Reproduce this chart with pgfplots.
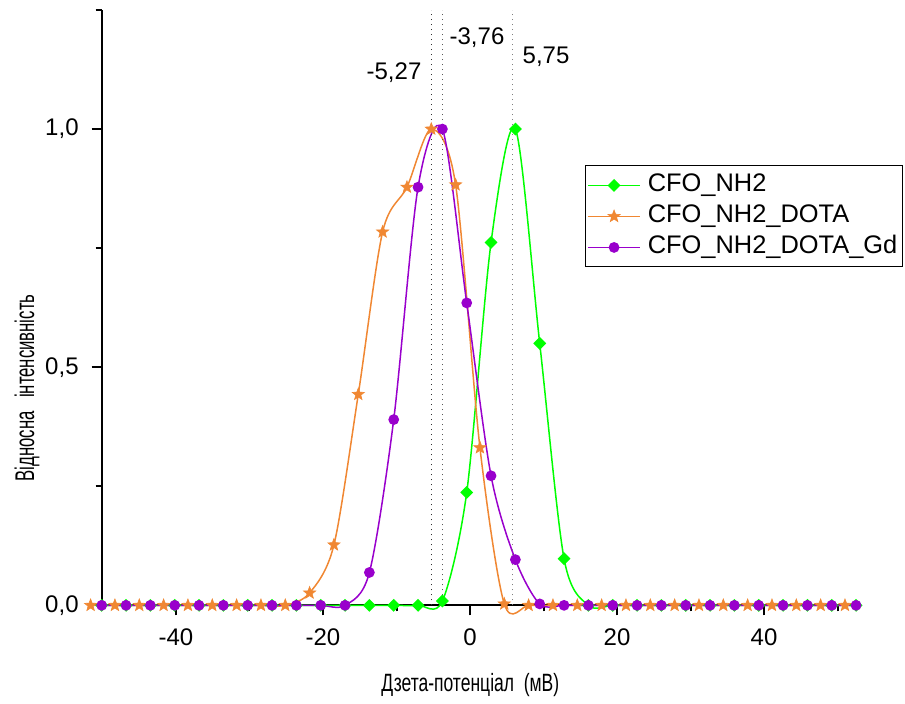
\documentclass[border=0pt]{standalone}
\usepackage{fontspec}
\setmainfont{Liberation Sans}
\newfontfamily\xnarrow[FakeStretch=0.7]{Liberation Sans}
\newfontfamily\ynarrow[FakeStretch=0.62]{Liberation Sans}
\usepackage{pgfplots}
\usepackage{pgfplotstable}
\pgfplotsset{compat=1.18}

\definecolor{cfogreen}{RGB}{0,255,0}
\definecolor{cfoorange}{RGB}{240,135,50}
\definecolor{cfopurple}{RGB}{153,0,204}

% filled five-pointed star
\pgfdeclareplotmark{fstar}{%
  \pgfpathmoveto{\pgfqpointpolar{90}{\pgfplotmarksize}}%
  \pgfpathlineto{\pgfqpointpolar{126}{0.42\pgfplotmarksize}}%
  \pgfpathlineto{\pgfqpointpolar{162}{\pgfplotmarksize}}%
  \pgfpathlineto{\pgfqpointpolar{198}{0.42\pgfplotmarksize}}%
  \pgfpathlineto{\pgfqpointpolar{234}{\pgfplotmarksize}}%
  \pgfpathlineto{\pgfqpointpolar{270}{0.42\pgfplotmarksize}}%
  \pgfpathlineto{\pgfqpointpolar{306}{\pgfplotmarksize}}%
  \pgfpathlineto{\pgfqpointpolar{342}{0.42\pgfplotmarksize}}%
  \pgfpathlineto{\pgfqpointpolar{18}{\pgfplotmarksize}}%
  \pgfpathlineto{\pgfqpointpolar{54}{0.42\pgfplotmarksize}}%
  \pgfpathclose
  \pgfusepathqfillstroke}

% CFO_NH2 and CFO_NH2_DOTA_Gd share the same x grid
\pgfplotstableread{
x      g      p
-50.10 0      0
-46.79 0      0
-43.48 0      0
-40.17 0      0
-36.86 0      0
-33.55 0      0
-30.24 0      0
-26.93 0      0
-23.62 0      0
-20.31 0      0
-17.00 0      0
-13.69 0      0.069
-10.38 0      0.390
-7.07  0      0.878
-3.76  0.009  1.000
-0.45  0.237  0.635
2.86   0.762  0.272
6.17   1.000  0.096
9.48   0.550  0.003
12.79  0.098  0
16.10  0      0
19.41  0      0
22.72  0      0
26.03  0      0
29.34  0      0
32.65  0      0
35.96  0      0
39.27  0      0
42.58  0      0
45.89  0      0
49.20  0      0
52.51  0      0
}\gridtable

\pgfplotstableread{
x      o
-51.61 0
-48.30 0
-44.99 0
-41.68 0
-38.37 0
-35.06 0
-31.75 0
-28.44 0
-25.13 0
-21.82 0.026
-18.51 0.127
-15.20 0.443
-11.89 0.784
-8.58  0.878
-5.27  1.000
-1.96  0.883
1.35   0.331
4.66   0.003
7.97   0
11.28  0
14.59  0
17.90  0
21.21  0
24.52  0
27.83  0
31.14  0
34.45  0
37.76  0
41.07  0
44.38  0
47.69  0
51.00  0
}\dotatable

\begin{document}
\begin{tikzpicture}
\begin{axis}[
    width=379pt, height=297.5pt, scale only axis,
    xmin=-50.1, xmax=53.06, ymin=0, ymax=1.25,
    clip=false,
    axis lines=left,
    axis line style={line width=1pt, -},
    xtick={-40,-20,0,20,40},
    minor xtick={-30,-10,10,30,50},
    ytick={0,0.5,1},
    minor ytick={0.25,0.75,1.25},
    tick align=outside,
    major tick length=5pt, minor tick length=3pt,
    tick style={line width=1pt, black},
    /pgf/number format/assume math mode=true,
    ticklabel style={font=\fontsize{12}{14}\selectfont},
    yticklabel={\pgfmathprintnumber[fixed, fixed zerofill, precision=1, use comma]{\tick}},
    xticklabel style={yshift=-3pt},
    yticklabel style={xshift=-3pt},
    xlabel={\xnarrow\fontsize{12.5}{14}\selectfont Дзета-потенціал\ \ (мВ)},
    ylabel={\ynarrow\fontsize{13.5}{15}\selectfont Відносна\hspace{0.5em}інтенсивність},
    every axis x label/.style={at={(axis description cs:0.486,-0.134)}, anchor=center},
    every axis y label/.style={at={(axis description cs:-0.0985,0.365)}, anchor=center, rotate=90},
    legend style={at={(rel axis cs:0.637,0.739)}, anchor=north west,
        draw=black, line width=0.5pt, inner xsep=1pt, inner ysep=2pt,
        font=\fontsize{12.7}{15}\selectfont,
        nodes={inner sep=1.5pt, text height=9.5pt, text depth=3pt}},
    legend cell align=left,
    legend image code/.code={\draw[mark repeat=2, mark phase=2] plot coordinates {(0pt,0pt) (13pt,0pt) (26pt,0pt)};},
    legend style={/tikz/every odd column/.append style={column sep=2pt}},
]
\addplot[cfogreen, line width=0.75pt, smooth, mark=square*, mark size=1.9pt,
    mark options={rotate=45, solid, fill=cfogreen}] table[x=x, y=g] {\gridtable};
\addlegendentry{CFO\_NH2}
\addplot[cfoorange, line width=0.75pt, smooth, mark=fstar, mark size=3.2pt,
    mark options={solid, fill=cfoorange, line width=0.3pt}] table[x=x, y=o] {\dotatable};
\addlegendentry{CFO\_NH2\_DOTA}
\addplot[cfopurple, line width=0.75pt, smooth, mark=*, mark size=2.3pt,
    mark options={solid, fill=cfopurple}] table[x=x, y=p] {\gridtable};
\addlegendentry{CFO\_NH2\_DOTA\_Gd}

% peak positions
\addplot[black!80, dotted, line width=0.5pt, forget plot] coordinates {(-5.27,0) (-5.27,1.25)};
\addplot[black!65, dotted, line width=0.5pt, forget plot] coordinates {(-3.76,0) (-3.76,1.25)};
\addplot[black!50, dotted, line width=0.5pt, forget plot] coordinates {(5.75,0) (5.75,1.25)};
\node[font=\fontsize{12}{14}\selectfont] at (axis cs:-10.34,1.118) {-5,27};
\node[font=\fontsize{12}{14}\selectfont] at (axis cs:0.95,1.191) {-3,76};
\node[font=\fontsize{12}{14}\selectfont] at (axis cs:10.34,1.151) {5,75};

\path (rel axis cs:-0.1341,-0.158) rectangle (rel axis cs:1.0592,1.0168);
\end{axis}
\end{tikzpicture}
\end{document}
